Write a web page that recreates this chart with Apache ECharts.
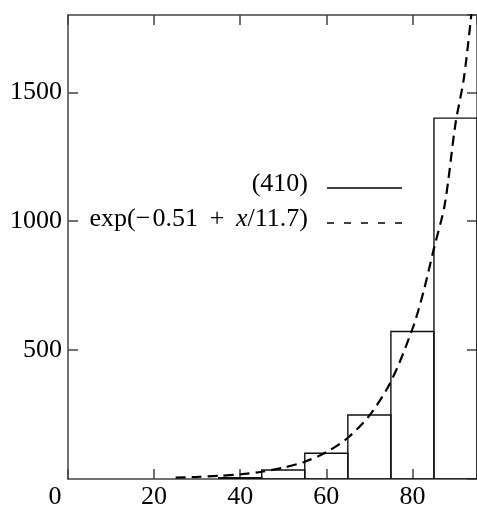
<!DOCTYPE html>
<html>
<head>
<meta charset="utf-8">
<script src="https://cdn.jsdelivr.net/npm/echarts@6/dist/echarts.min.js"></script>
<style>
html,body{margin:0;padding:0;background:#fff;}
#c{width:477px;height:510px;}
</style>
</head>
<body>
<div id="c"></div>
<script>
// Histogram bins
var binStart = [35, 45, 55, 65, 75, 85];
var binEnd   = [45, 55, 65, 75, 85, 95];
var counts   = [5, 35, 100, 248, 572, 1400];

// Fitted curve exp(-0.51 + x/11.7)
var curveX = [25, 30, 35, 40, 45, 50, 55, 60, 65, 70, 75, 80, 82.5, 85, 87.5, 90, 92, 94];
var curveY = [5, 8, 12, 18, 28, 44, 67, 104, 160, 246, 378, 582, 722, 895, 1064, 1378, 1560, 1852];

var xTicks = [0, 20, 40, 60, 80];
var yTicks = [500, 1000, 1500];

var legendHist = '(410)';
var legendFit = 'exp(\u2212\u200a0.51\u2009 + \u2009{i|x}/11.7)';

var chart = echarts.init(document.getElementById('c'), null, {renderer: 'canvas'});
var FONT = 'Liberation Serif';
var FS = 26;
var axisCol = '#444';

var histData = binStart.map(function (s, i) { return [s, binEnd[i], counts[i]]; });
var curveData = curveX.map(function (x, i) { return [x, curveY[i]]; });

function axisBase(pos) {
  return {
    type: 'value', position: pos,
    axisLine: {show: true, onZero: false, lineStyle: {color: axisCol, width: 1.5}},
    axisTick: {show: true, inside: true, length: 10, lineStyle: {color: axisCol, width: 1.5}},
    splitLine: {show: false}
  };
}

var xb = axisBase('bottom');
xb.min = 0; xb.max = 95; xb.interval = 20;
xb.axisLabel = {
  show: true, margin: 5, showMaxLabel: false,
  fontFamily: FONT, fontSize: FS, color: '#000',
  formatter: function (v) { return xTicks.indexOf(v) < 0 ? '' : (v === 0 ? '{z|0}' : String(v)); },
  rich: {z: {fontFamily: FONT, fontSize: FS, color: '#000', padding: [0, 26, 0, 0]}}
};
var xt = axisBase('top');
xt.min = 0; xt.max = 95; xt.interval = 20; xt.axisLabel = {show: false};

var yl = axisBase('left');
yl.min = 0; yl.max = 1800; yl.interval = 500;
yl.axisLabel = {show: true, margin: 6, showMinLabel: false, showMaxLabel: false,
  fontFamily: FONT, fontSize: FS, color: '#000',
  formatter: function (v) { return yTicks.indexOf(v) < 0 ? '' : String(v); }};
var yr = axisBase('right');
yr.min = 0; yr.max = 1800; yr.interval = 500; yr.axisLabel = {show: false};

var option = {
  animation: false,
  backgroundColor: '#fff',
  grid: {left: 68, top: 15, right: -1, bottom: 27, containLabel: false},
  xAxis: [xb, xt],
  yAxis: [yl, yr],
  series: [{
    type: 'custom',
    xAxisIndex: 0, yAxisIndex: 0,
    data: histData,
    clip: true,
    renderItem: function (params, api) {
      var p0 = api.coord([api.value(0), api.value(2)]);
      var p1 = api.coord([api.value(1), 0]);
      return {
        type: 'rect',
        shape: {x: p0[0], y: p0[1], width: p1[0] - p0[0], height: p1[1] - p0[1]},
        style: {fill: 'none', stroke: '#111', lineWidth: 1.4}
      };
    },
    z: 2
  }, {
    type: 'line',
    xAxisIndex: 0, yAxisIndex: 0,
    data: curveData,
    smooth: 0.3,
    showSymbol: false,
    clip: true,
    lineStyle: {color: '#000', width: 2.2, type: [10, 6]},
    z: 3
  }],
  graphic: [
    {type: 'text', right: 477 - 308, top: 171,
      style: {text: legendHist, font: FS + 'px "Liberation Serif"', fill: '#000'}},
    {type: 'line', shape: {x1: 327, y1: 188, x2: 402, y2: 188},
      style: {stroke: '#000', lineWidth: 1.5}},
    {type: 'text', right: 477 - 308, top: 206,
      style: {text: legendFit, font: FS + 'px "Liberation Serif"', fill: '#000',
        rich: {i: {fontFamily: FONT, fontSize: FS, fontStyle: 'italic', fill: '#000'}}}},
    {type: 'line', shape: {x1: 327, y1: 223, x2: 402, y2: 223},
      style: {stroke: '#000', lineWidth: 1.5, lineDash: [7, 10]}}
  ]
};
chart.setOption(option);
</script>
</body>
</html>
